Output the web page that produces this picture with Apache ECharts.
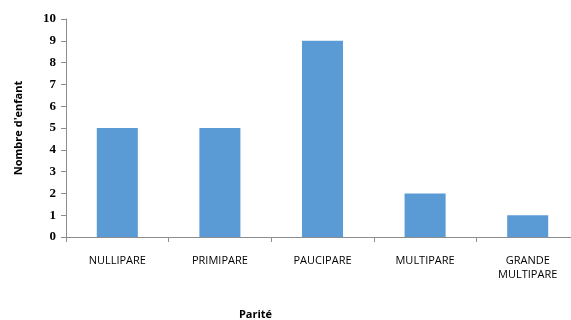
<!DOCTYPE html>
<html>
<head>
<meta charset="utf-8">
<script src="https://cdn.jsdelivr.net/npm/echarts@6/dist/echarts.min.js"></script>
<style>
  html, body { margin: 0; padding: 0; background: #fff; }
  #chart { width: 571px; height: 320px; }
</style>
</head>
<body>
<div id="chart"></div>
<script>
// Number of children by parity
const categories = ['NULLIPARE', 'PRIMIPARE', 'PAUCIPARE', 'MULTIPARE', 'GRANDE\nMULTIPARE'];
const counts = [5, 5, 9, 2, 1];
const yTicks = { min: 0, max: 10, interval: 1 };

const chart = echarts.init(document.getElementById('chart'), null, { renderer: 'canvas' });
chart.setOption({
  animation: false,
  grid: { left: 66, right: -8, top: 19, bottom: 83, containLabel: false, outerBoundsMode: 'none' },
  xAxis: {
    type: 'category',
    data: categories,
    name: 'Parité',
    nameLocation: 'middle',
    nameGap: 72,
    nameTextStyle: { fontFamily: 'Open Sans', fontWeight: 'bold', fontSize: 11, color: '#000', padding: [0, 134, 0, 0] },
    axisLine: { lineStyle: { color: '#8c8c8c', width: 1 } },
    axisTick: { show: true, alignWithLabel: false, length: 5, lineStyle: { color: '#8c8c8c' } },
    axisLabel: { fontFamily: 'Open Sans', fontSize: 11, color: '#000', margin: 17, lineHeight: 14, interval: 0 }
  },
  yAxis: {
    type: 'value',
    min: yTicks.min,
    max: yTicks.max,
    interval: yTicks.interval,
    name: "Nombre d'enfant",
    nameLocation: 'middle',
    nameGap: 42,
    nameRotate: 90,
    nameTextStyle: { fontFamily: 'Open Sans', fontWeight: 'bold', fontSize: 11, color: '#000' },
    splitLine: { show: false },
    axisLine: { show: true, lineStyle: { color: '#8c8c8c', width: 1 } },
    axisTick: { show: true, length: 5, lineStyle: { color: '#8c8c8c' } },
    axisLabel: { fontFamily: 'Liberation Serif', fontWeight: 'bold', fontSize: 13, color: '#000', margin: 10 }
  },
  series: [{
    type: 'bar',
    data: counts,
    barWidth: '40%',
    itemStyle: { color: '#5b9bd5' }
  }]
});
</script>
</body>
</html>
